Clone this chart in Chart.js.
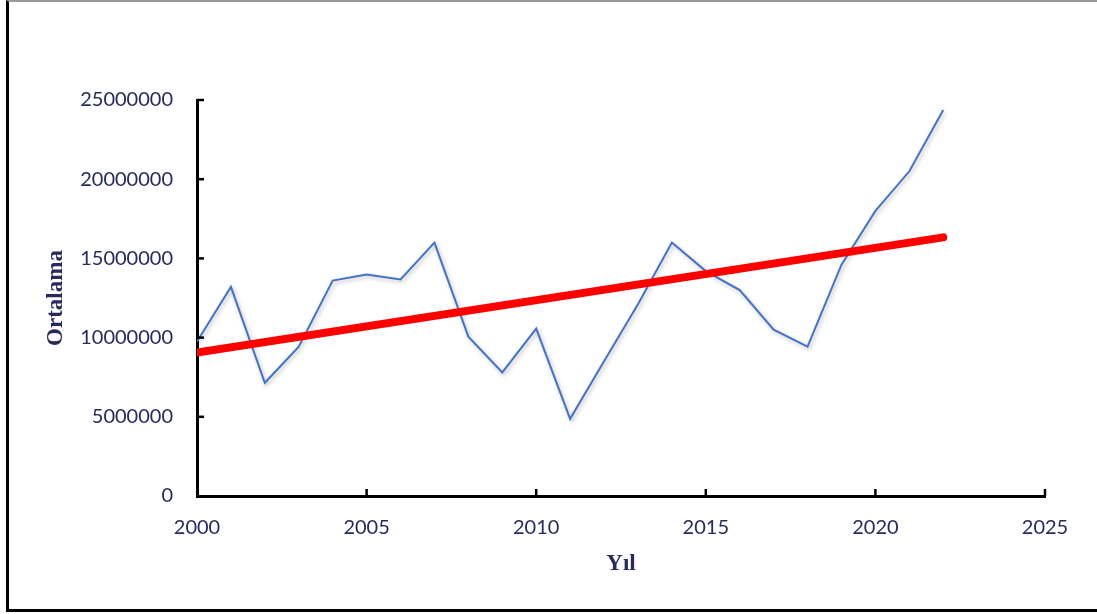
<!DOCTYPE html>
<html>
<head>
<meta charset="utf-8">
<script src="https://cdn.jsdelivr.net/npm/chart.js@4/dist/chart.umd.min.js"></script>
<style>
  html, body { margin: 0; padding: 0; background: #fff; }
  #wrap { position: relative; width: 1097px; height: 614px; overflow: hidden; }
  #frame { position: absolute; left: 6px; top: 0; width: 1100px; height: 607px;
           border: 3px solid #000; border-top: 2px solid #9a9a9a; box-sizing: content-box; }
  #c { position: absolute; left: 0; top: 0; }
</style>
</head>
<body>
<div id="wrap">
  <div id="frame"></div>
  <canvas id="c" width="1097" height="614"></canvas>
</div>
<script>
// ---- data ----
const years = [2000, 2001, 2002, 2003, 2004, 2005, 2006, 2007, 2008, 2009, 2010, 2011,
               2012, 2013, 2014, 2015, 2016, 2017, 2018, 2019, 2020, 2021, 2022];
const ortalama = [9750000, 13200000, 7150000, 9430000, 13600000, 13990000, 13670000, 16000000,
                  10060000, 7800000, 10570000, 4870000, 8500000, 12100000, 16000000, 14200000,
                  13000000, 10500000, 9430000, 14600000, 18000000, 20500000, 24370000];
const trendYears = [2000, 2022];
const trendValues = [9050000, 16330000];
const xTicks = [2000, 2005, 2010, 2015, 2020, 2025];
const yTicks = [0, 5000000, 10000000, 15000000, 20000000, 25000000];

const textColor = '#272b5b';

const toPoints = (xs, ys) => xs.map((x, i) => ({ x: x, y: ys[i] }));

// inward tick marks
const inwardTicks = {
  id: 'inwardTicks',
  afterDraw(chart) {
    const ctx = chart.ctx;
    const xs = chart.scales.x, ys = chart.scales.y;
    const area = chart.chartArea;
    ctx.save();
    ctx.strokeStyle = '#000';
    ctx.lineWidth = 2.5;
    xTicks.forEach(v => {
      if (v === xTicks[0]) return;
      const px = xs.getPixelForValue(v);
      ctx.beginPath(); ctx.moveTo(px, area.bottom); ctx.lineTo(px, area.bottom - 7); ctx.stroke();
    });
    yTicks.forEach(v => {
      if (v === yTicks[0]) return;
      const py = ys.getPixelForValue(v);
      ctx.beginPath(); ctx.moveTo(area.left, py); ctx.lineTo(area.left + 7, py); ctx.stroke();
    });
    ctx.restore();
  }
};

// soft shadow under the data line
const lineShadow = {
  id: 'lineShadow',
  beforeDatasetDraw(chart, args) {
    if (args.index === 1) {
      const ctx = chart.ctx;
      ctx.save();
      ctx.shadowColor = 'rgba(0,0,0,0.28)';
      ctx.shadowBlur = 4;
      ctx.shadowOffsetX = 1.5;
      ctx.shadowOffsetY = 2;
    }
  },
  afterDatasetDraw(chart, args) {
    if (args.index === 1) chart.ctx.restore();
  }
};

new Chart(document.getElementById('c'), {
  type: 'line',
  data: {
    datasets: [
      {
        label: 'Trend',
        data: toPoints(trendYears, trendValues),
        borderColor: '#ff0000',
        borderWidth: 8,
        borderCapStyle: 'round',
        pointRadius: 0,
        fill: false,
        order: 0
      },
      {
        label: 'Ortalama',
        data: toPoints(years, ortalama),
        borderColor: '#4472c4',
        borderWidth: 2,
        pointRadius: 0,
        tension: 0,
        fill: false,
        order: 1
      }
    ]
  },
  options: {
    responsive: false,
    animation: false,
    events: [],
    layout: { padding: { top: 100, right: 52, left: 0, bottom: 0 } },
    plugins: { legend: { display: false }, tooltip: { enabled: false } },
    scales: {
      x: {
        type: 'linear',
        min: 2000, max: 2025,
        afterFit(scale) { scale.height = 118; },
        afterBuildTicks(scale) { scale.ticks = xTicks.map(v => ({ value: v })); },
        grid: { display: false, drawTicks: false },
        border: { display: true, color: '#000', width: 3 },
        ticks: {
          padding: 20,
          color: textColor,
          font: { family: 'Lato', size: 20 },
          callback: v => String(v)
        },
        title: {
          display: true, text: 'Yıl', color: textColor,
          font: { family: 'Liberation Serif', size: 23, weight: 'bold' },
          padding: { top: 0, bottom: 36 }
        }
      },
      y: {
        min: 0, max: 25000000,
        afterFit(scale) { scale.width = 197; },
        afterBuildTicks(scale) { scale.ticks = yTicks.map(v => ({ value: v })); },
        grid: { display: false, drawTicks: false },
        border: { display: true, color: '#000', width: 3 },
        ticks: {
          padding: 24,
          color: textColor,
          font: { family: 'Lato', size: 20 },
          callback: v => String(v)
        },
        title: {
          display: true, text: 'Ortalama', color: textColor,
          font: { family: 'Liberation Serif', size: 23, weight: 'bold' },
          padding: { top: 42, bottom: 0 }
        }
      }
    }
  },
  plugins: [inwardTicks, lineShadow]
});
</script>
</body>
</html>
